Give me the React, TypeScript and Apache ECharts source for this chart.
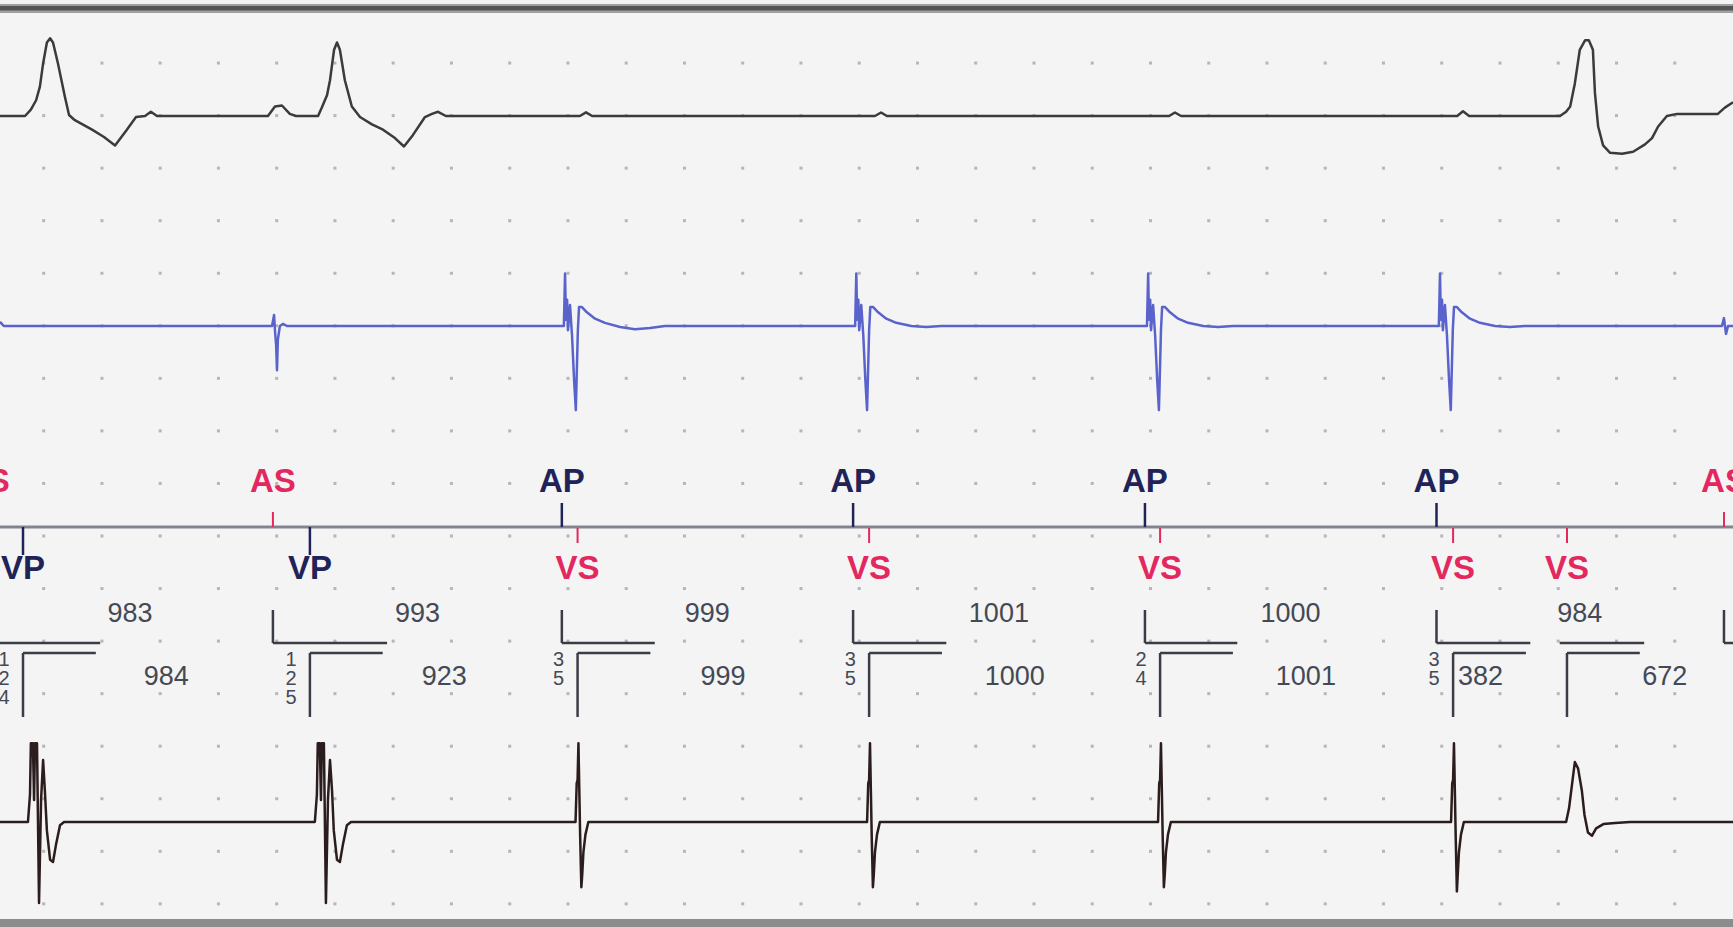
import React, { useEffect, useRef } from 'react';
import * as echarts from 'echarts';

const W = 1733;
const H = 927;
const T_MIN = -150; // ms at left edge
const T_MAX = 5800; // ms at right edge
const MM_PX = 10.51; // pixels per mm of amplitude

// baselines of the three channels (px from top)
const TOP_BASE = 116;
const BLUE_BASE = 326;
const BOTTOM_BASE = 822;

// surface ECG (top), [ms, mm]
const TOP_ECG = [
  [-150, 0], [-64, 0], [-44, 0.6], [-26, 1.5], [-13, 2.8], [-2, 5.0], [11, 7.0], [22, 7.4], [32, 7.0], [49, 5.0],
  [73, 1.8], [87, 0.1], [107, -0.4], [166, -1.3], [207, -2.0], [245, -2.8], [283, -1.4], [317, -0.1], [348, 0],
  [368, 0.4], [389, 0],
  [770, 0], [794, 0.9], [818, 1.0], [845, 0.2], [866, 0],
  [942, 0], [955, 0.8], [973, 2.0], [983, 3.4], [997, 6.3], [1007, 7.0], [1017, 6.3], [1034, 3.4], [1058, 0.9],
  [1086, -0.1], [1127, -0.8], [1165, -1.3], [1206, -2.1], [1237, -2.9], [1268, -1.8], [1309, -0.1], [1333, 0.2],
  [1354, 0.4], [1381, 0],
  [1841, 0], [1862, 0.35], [1883, 0],
  [2854, 0], [2875, 0.33], [2895, 0],
  [3864, 0], [3884, 0.33], [3905, 0],
  [4853, 0], [4873, 0.45], [4894, 0],
  [5206, 0], [5227, 0.4], [5241, 0.9], [5257, 3.1], [5274, 6.3], [5292, 7.2], [5305, 7.2], [5319, 6.3], [5326, 2.2],
  [5337, -1.0], [5354, -2.8], [5378, -3.5], [5419, -3.6], [5457, -3.4], [5498, -2.7], [5522, -2.1], [5543, -1.0],
  [5573, 0], [5608, 0.2], [5748, 0.2], [5772, 0.8], [5800, 1.3],
];

// atrial electrogram (blue), [ms, mm]
const BLUE_EGM = [
  [-150, 0.4], [-137, 0],
  [784, 0], [791, 1.05], [794, -0.4], [798, -1.8], [801, -4.2], [804, -1.3], [811, 0], [822, 0.2], [835, 0],
  [1786, 0], [1790, 5.0], [1793, 0.6], [1797, 2.5], [1800, -0.4], [1807, 2.0], [1814, -0.9], [1821, -5.1],
  [1827, -8.0], [1834, -0.4], [1838, 1.8], [1848, 1.8], [1865, 1.3], [1893, 0.7], [1927, 0.3], [1979, -0.1],
  [2030, -0.3], [2082, -0.2], [2133, 0],
  [2786, 0], [2790, 5.0], [2793, 0.6], [2797, 2.5], [2800, -0.4], [2807, 2.0], [2814, -0.9], [2821, -5.1],
  [2827, -8.0], [2834, -0.4], [2838, 1.8], [2848, 1.8], [2865, 1.3], [2893, 0.7], [2927, 0.3], [2979, 0],
  [3030, -0.1], [3082, 0],
  [3788, 0], [3792, 5.0], [3795, 0.6], [3799, 2.5], [3802, -0.4], [3809, 2.0], [3816, -0.9], [3823, -5.1],
  [3829, -8.0], [3836, -0.4], [3840, 1.8], [3850, 1.8], [3867, 1.3], [3895, 0.7], [3929, 0.3], [3981, 0],
  [4032, -0.1], [4084, 0],
  [4790, 0], [4794, 5.0], [4797, 0.6], [4801, 2.5], [4804, -0.4], [4811, 2.0], [4818, -0.9], [4825, -5.1],
  [4831, -8.0], [4838, -0.4], [4842, 1.8], [4852, 1.8], [4869, 1.3], [4897, 0.7], [4931, 0.3], [4983, 0],
  [5034, -0.1], [5086, 0],
  [5762, 0], [5769, 0.75], [5776, -0.75], [5783, 0], [5800, 0],
];

// ventricular ECG (bottom), [ms, mm]
const BOTTOM_ECG = [
  [-150, 0], [-54, 0], [-47, 2.6], [-44, 7.5], [-37, 7.5], [-33, 2.1], [-30, 7.5], [-23, 7.5], [-16, -7.7],
  [-9, 2.1], [-2, 5.9], [4, 3.0], [11, -0.8], [22, -3.6], [32, -3.8], [42, -2.2], [56, -0.3], [70, 0],
  [931, 0], [938, 2.6], [941, 7.5], [948, 7.5], [952, 2.1], [955, 7.5], [962, 7.5], [969, -7.7], [976, 2.1],
  [983, 5.9], [990, 3.0], [996, -0.8], [1007, -3.6], [1017, -3.8], [1027, -2.2], [1041, -0.3], [1055, 0],
  [1826, 0], [1830, 3.7], [1833, 4.0], [1836, 7.5], [1839, 3.0], [1842, -1.5], [1846, -6.2], [1849, -5.0],
  [1853, -2.9], [1860, -1.2], [1870, 0],
  [2827, 0], [2831, 3.7], [2834, 4.0], [2837, 7.5], [2840, 3.0], [2843, -1.5], [2847, -6.2], [2850, -5.0],
  [2854, -2.9], [2861, -1.2], [2871, 0],
  [3826, 0], [3830, 3.7], [3833, 4.0], [3836, 7.5], [3839, 3.0], [3842, -1.5], [3846, -6.2], [3849, -5.0],
  [3853, -2.9], [3860, -1.2], [3870, 0],
  [4832, 0], [4836, 3.7], [4839, 4.0], [4842, 7.5], [4845, 3.0], [4848, -1.5], [4852, -6.6], [4855, -5.0],
  [4859, -2.9], [4866, -1.2], [4876, 0],
  [5227, 0], [5237, 1.3], [5247, 3.5], [5257, 5.7], [5268, 5.1], [5281, 3.0], [5290, 0.7], [5302, -1.0],
  [5316, -1.3], [5330, -0.6], [5355, -0.2], [5395, -0.1], [5447, 0], [5800, 0],
];

// marker channel events
const ATRIAL_TIMES = [-195, 787, 1779, 2779, 3781, 4782, 5769];
const ATRIAL_TYPES = ['AS', 'AS', 'AP', 'AP', 'AP', 'AP', 'AS'];
const VENT_TIMES = [-71, 914, 1833, 2834, 3833, 4839, 5230];
const VENT_TYPES = ['VP', 'VP', 'VS', 'VS', 'VS', 'VS', 'VS'];
const AA_INTERVALS = [983, 993, 999, 1001, 1000, 984];
const VV_INTERVALS = [984, 923, 999, 1000, 1001, 382, 672];
const AV_DELAY_TEXT = ['124', '125', '35', '35', '24', '35'];
// atrial index / ventricular index of each bracket pair
const PAIRS: [number | null, number | null][] = [[0, 0], [1, 1], [2, 2], [3, 3], [4, 4], [5, 5], [null, 6], [6, null]];

// grid dot positions
const DOT_COLS_MS = Array.from({ length: 29 }, (_, k) => k * 200);
const DOT_ROWS_PX = Array.from({ length: 17 }, (_, k) => 10.5 + 52.55 * (k + 1));

const FONT = '"Liberation Sans", Arial, sans-serif';
const NAVY = '#1f2358';
const RED = '#e2285e';
const SEG_COLORS = ['#80858f', NAVY, RED, '#3a3d45'];
const MARK_Y = 527;

function buildOption() {
  const dots: number[][] = [];
  DOT_COLS_MS.forEach((t) => DOT_ROWS_PX.forEach((y) => dots.push([t, y])));

  const segs: number[][] = [];
  segs.push([T_MIN - 300, MARK_Y, T_MAX + 300, MARK_Y, 0, 3]);
  ATRIAL_TIMES.forEach((a, i) => {
    if (ATRIAL_TYPES[i] === 'AP') segs.push([a, 503, a, MARK_Y, 1, 2.5]);
    else segs.push([a, 512, a, MARK_Y, 2, 2]);
  });
  VENT_TIMES.forEach((v, i) => {
    if (VENT_TYPES[i] === 'VP') segs.push([v, MARK_Y, v, 555, 1, 2.5]);
    else segs.push([v, MARK_Y + 1, v, 543, 2, 2]);
  });
  PAIRS.forEach(([ai, vi]) => {
    const a = ai == null ? null : ATRIAL_TIMES[ai];
    const v = vi == null ? null : VENT_TIMES[vi];
    const start = a != null ? a : (v as number) - 25;
    const end = v != null ? v + 265 : (a as number) + 400;
    segs.push([start, 643, end, 643, 3, 2.5]);
    if (a != null) segs.push([a, 610, a, 643, 3, 2.5]);
    if (v != null) {
      segs.push([v, 653, v + 250, 653, 3, 2.5]);
      segs.push([v, 653, v, 717, 3, 2.5]);
    }
  });

  const markerLabels: { t: number; y: number; text: string; color: string }[] = [];
  ATRIAL_TIMES.forEach((a, i) =>
    markerLabels.push({ t: a, y: 480, text: ATRIAL_TYPES[i], color: ATRIAL_TYPES[i] === 'AP' ? NAVY : RED })
  );
  VENT_TIMES.forEach((v, i) =>
    markerLabels.push({ t: v, y: 567, text: VENT_TYPES[i], color: VENT_TYPES[i] === 'VP' ? NAVY : RED })
  );

  const intervalLabels: { t: number; y: number; text: string; align: string }[] = [];
  AA_INTERVALS.forEach((iv, i) =>
    intervalLabels.push({ t: ATRIAL_TIMES[i] + iv / 2, y: 613, text: String(iv), align: 'center' })
  );
  VV_INTERVALS.forEach((iv, i) => {
    const v = VENT_TIMES[i];
    if (iv < 500) intervalLabels.push({ t: v + 17, y: 676, text: String(iv), align: 'left' });
    else intervalLabels.push({ t: v + iv / 2, y: 676, text: String(iv), align: 'center' });
  });

  const avLabels = AV_DELAY_TEXT.map((s, i) => ({ t: VENT_TIMES[i] - 65, y: 649, text: s.split('').join('\n') }));

  const ampAxis = (base: number) => ({
    type: 'value',
    min: (base - H) / MM_PX,
    max: base / MM_PX,
    show: false,
  });

  return {
    animation: false,
    backgroundColor: '#f4f4f4',
    grid: { left: 0, right: 0, top: 0, bottom: 0, containLabel: false },
    xAxis: { type: 'value', min: T_MIN, max: T_MAX, show: false },
    yAxis: [
      { type: 'value', min: 0, max: H, inverse: true, show: false },
      ampAxis(TOP_BASE),
      ampAxis(BLUE_BASE),
      ampAxis(BOTTOM_BASE),
    ],
    graphic: [
      { type: 'rect', shape: { x: 0, y: 4, width: W, height: 9 }, style: { fill: '#a0a0a0' }, z: 10 },
      { type: 'rect', shape: { x: 0, y: 6, width: W, height: 4.5 }, style: { fill: '#555555' }, z: 11 },
      { type: 'rect', shape: { x: 0, y: 919, width: W, height: 8 }, style: { fill: '#8c8c8c' }, z: 10 },
    ],
    series: [
      {
        type: 'scatter',
        yAxisIndex: 0,
        data: dots,
        symbol: 'rect',
        symbolSize: 3,
        itemStyle: { color: '#a6a6a6' },
        silent: true,
        z: 1,
      },
      {
        type: 'custom',
        yAxisIndex: 0,
        data: segs,
        encode: { x: [0, 2], y: [1, 3] },
        silent: true,
        z: 2,
        renderItem: (params: any, api: any) => {
          const p1 = api.coord([api.value(0), api.value(1)]);
          const p2 = api.coord([api.value(2), api.value(3)]);
          return {
            type: 'line',
            shape: { x1: p1[0], y1: p1[1], x2: p2[0], y2: p2[1] },
            style: { stroke: SEG_COLORS[api.value(4)], lineWidth: api.value(5) },
          };
        },
      },
      {
        type: 'custom',
        yAxisIndex: 0,
        data: markerLabels.map((d) => [d.t, d.y]),
        encode: { x: 0, y: 1 },
        silent: true,
        z: 3,
        renderItem: (params: any, api: any) => {
          const p = api.coord([api.value(0), api.value(1)]);
          const d = markerLabels[params.dataIndex];
          return {
            type: 'text',
            x: p[0],
            y: p[1],
            style: {
              text: d.text,
              fill: d.color,
              fontSize: 33,
              fontWeight: 'bold',
              fontFamily: FONT,
              align: 'center',
              verticalAlign: 'middle',
            },
          };
        },
      },
      {
        type: 'custom',
        yAxisIndex: 0,
        data: intervalLabels.map((d) => [d.t, d.y]),
        encode: { x: 0, y: 1 },
        silent: true,
        z: 3,
        renderItem: (params: any, api: any) => {
          const p = api.coord([api.value(0), api.value(1)]);
          const d = intervalLabels[params.dataIndex];
          return {
            type: 'text',
            x: p[0],
            y: p[1],
            style: {
              text: d.text,
              fill: '#444954',
              fontSize: 27,
              fontFamily: FONT,
              align: d.align,
              verticalAlign: 'middle',
            },
          };
        },
      },
      {
        type: 'custom',
        yAxisIndex: 0,
        data: avLabels.map((d) => [d.t, d.y]),
        encode: { x: 0, y: 1 },
        silent: true,
        z: 3,
        renderItem: (params: any, api: any) => {
          const p = api.coord([api.value(0), api.value(1)]);
          const d = avLabels[params.dataIndex];
          return {
            type: 'text',
            x: p[0],
            y: p[1],
            style: {
              text: d.text,
              fill: '#444954',
              fontSize: 20,
              lineHeight: 19,
              fontFamily: FONT,
              align: 'center',
              verticalAlign: 'top',
            },
          };
        },
      },
      {
        type: 'line',
        yAxisIndex: 1,
        data: TOP_ECG,
        symbol: 'none',
        showSymbol: false,
        silent: true,
        lineStyle: { color: '#3b3b3b', width: 2.5, join: 'round' },
        z: 4,
      },
      {
        type: 'line',
        yAxisIndex: 2,
        data: BLUE_EGM,
        symbol: 'none',
        showSymbol: false,
        silent: true,
        lineStyle: { color: '#5a63cc', width: 2.5, join: 'round' },
        z: 4,
      },
      {
        type: 'line',
        yAxisIndex: 3,
        data: BOTTOM_ECG,
        symbol: 'none',
        showSymbol: false,
        silent: true,
        lineStyle: { color: '#2b1d1d', width: 2.5, join: 'round' },
        z: 4,
      },
    ],
  };
}

export default function App() {
  const ref = useRef<HTMLDivElement>(null);
  useEffect(() => {
    if (!ref.current) return;
    const chart = echarts.init(ref.current, null, { renderer: 'svg', width: W, height: H });
    chart.setOption(buildOption() as any);
    return () => chart.dispose();
  }, []);
  return (
    <div
      ref={ref}
      style={{ position: 'absolute', left: 0, top: 0, width: W, height: H, overflow: 'hidden' }}
    />
  );
}
